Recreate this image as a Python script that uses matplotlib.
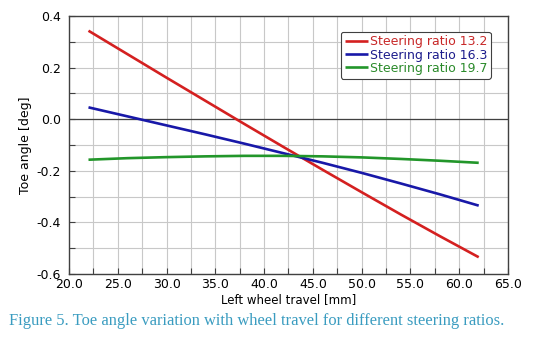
import matplotlib
matplotlib.use('Agg')
import matplotlib.pyplot as plt
import numpy as np

#%% Data
travel = [22, 26, 30, 34, 38, 42, 46, 50, 54, 58, 62]
toe_13_2 = [0.343, 0.252, 0.161, 0.071, -0.019, -0.108, -0.196, -0.283, -0.369, -0.453, -0.535]
toe_16_3 = [0.046, 0.011, -0.024, -0.059, -0.095, -0.132, -0.169, -0.208, -0.249, -0.291, -0.335]
toe_19_7 = [-0.157, -0.151, -0.147, -0.144, -0.142, -0.142, -0.144, -0.148, -0.154, -0.161, -0.169]
labels = ['Steering ratio 13.2', 'Steering ratio 16.3', 'Steering ratio 19.7']
line_colors = ['#d42020', '#1818a8', '#22962a']
text_colors = ['#c82828', '#1c1c8c', '#2a8a2a']

#%% Plot
fig = plt.figure(figsize=(5.41, 3.41), dpi=100)
ax = fig.add_axes([0.1275, 0.1965, 0.8115, 0.7565])

for y, lab, c in zip([toe_13_2, toe_16_3, toe_19_7], labels, line_colors):
    ax.plot(travel, y, color=c, lw=1.9, label=lab, solid_capstyle='butt')

ax.set_xlim(20, 65)
ax.set_ylim(-0.6, 0.4)
ax.set_xticks(np.arange(20, 65.1, 5))
ax.set_xticks(np.arange(22.5, 65, 5), minor=True)
ax.set_yticks(np.arange(-0.6, 0.41, 0.2))
ax.set_yticks(np.arange(-0.5, 0.4, 0.2), minor=True)
ax.set_xticklabels(['%.1f' % v for v in np.arange(20, 65.1, 5)])
ax.set_yticklabels(['%.1f' % v if abs(v) > 1e-9 else '0.0' for v in np.arange(-0.6, 0.41, 0.2)])
ax.grid(True, which='both', color='#c8c8c8', lw=0.8)
ax.set_axisbelow(True)
ax.axhline(0, color='#404040', lw=0.9, zorder=1)
ax.tick_params(which='both', direction='in', length=4, width=0.8, color='#404040',
               labelsize=9)
ax.tick_params(axis='y', pad=6)
ax.tick_params(axis='x', pad=3)
for s in ax.spines.values():
    s.set_color('#404040')
    s.set_linewidth(1.0)

ax.set_xlabel('Left wheel travel [mm]', fontsize=8.5, labelpad=1)
ax.set_ylabel('Toe angle [deg]', fontsize=9, labelpad=3)

leg = ax.legend(loc='upper right', bbox_to_anchor=(0.961, 0.94), fontsize=9,
                handlelength=1.9, handletextpad=0.1, labelspacing=0.02,
                borderpad=0.3, borderaxespad=0, fancybox=True, framealpha=1,
                edgecolor='#404040')
leg.get_frame().set_linewidth(0.8)
for t, c in zip(leg.get_texts(), text_colors):
    t.set_color(c)

fig.text(0.017, 0.06, 'Figure 5. Toe angle variation with wheel travel for different steering ratios.',
         family='Liberation Serif', fontsize=11.9, color='#3a9cc0', ha='left', va='center')

fig.savefig('out.png', dpi=100)
